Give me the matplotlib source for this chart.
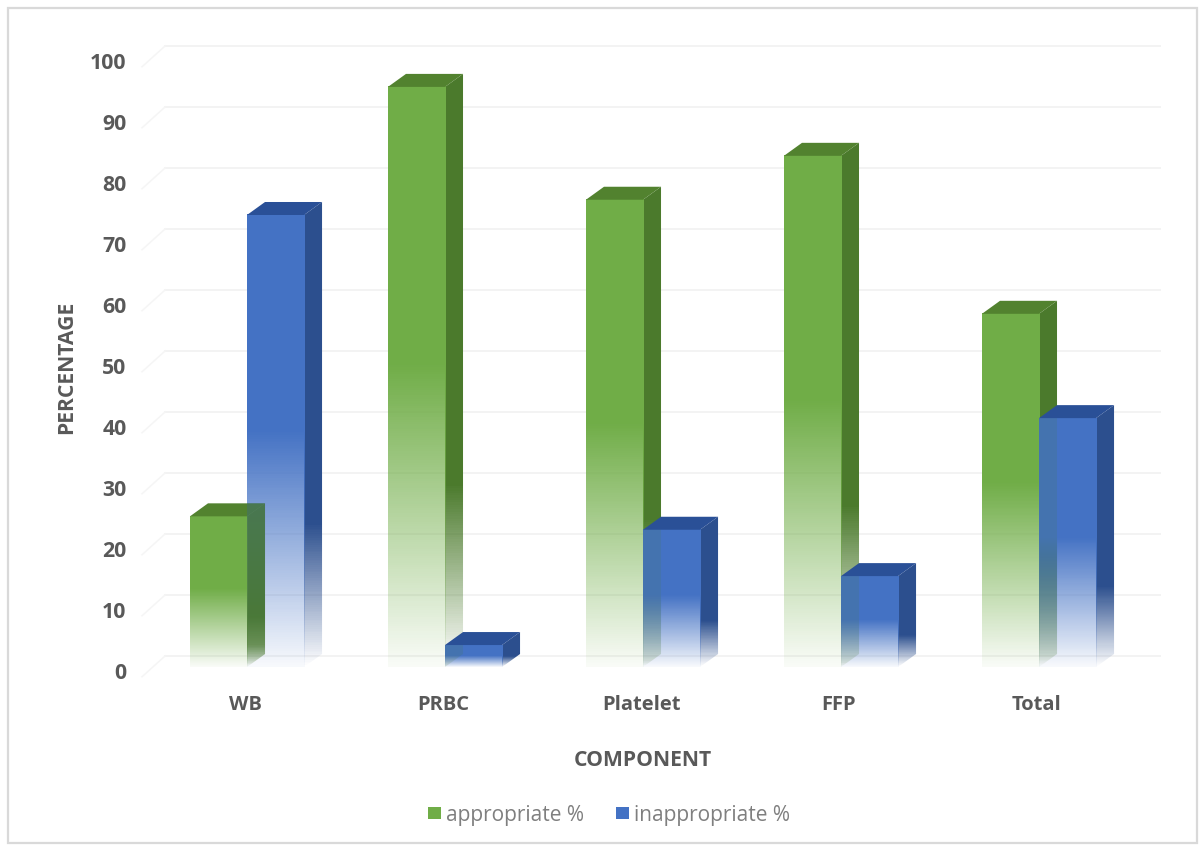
import numpy as np
import matplotlib
matplotlib.use('Agg')
import matplotlib.pyplot as plt
from matplotlib.patches import Polygon, Rectangle, Patch
from matplotlib.transforms import ScaledTranslation

components = ['WB', 'PRBC', 'Platelet', 'FFP', 'Total']
appropriate = [24.7, 95.1, 76.6, 83.8, 57.9]
inappropriate = [74.1, 3.6, 22.5, 14.9, 40.8]
y_ticks = list(range(0, 101, 10))

W, H = 1201, 848
BAR_W = 0.288
DEPTH_X = 0.091
DEPTH_Y = 2.13
GRID_LIFT = 1.8

GREEN = ('#70ad47', '#4b7a2c', '#52822f')
BLUE = ('#4472c4', '#2c4f8e', '#2a5097')
TEXT = '#595959'

plt.rcParams['font.family'] = ['Open Sans', 'DejaVu Sans']


def fade_image(color, strength, floor, cap=1.0):
    # vertical ramp: solid over the upper part of the bar, fading to the base
    rgb = matplotlib.colors.to_rgb(color)
    t = np.linspace(0, 1, 256)
    alpha = np.clip(floor + (1 - floor) * t / 0.52 * strength, 0, cap)
    img = np.zeros((256, 1, 4))
    img[:, 0, :3] = rgb
    img[:, 0, 3] = alpha
    return img


def draw_bar(ax, x, v, colors, z):
    front, side, top = colors
    x1 = x + BAR_W
    ax.imshow(fade_image(front, 1.0, 0.04), origin='lower', aspect='auto',
              extent=(x, x1, 0, v), zorder=z, interpolation='nearest')
    # side face, clipped to its parallelogram
    side_pts = [(x1, 0), (x1 + DEPTH_X, DEPTH_Y), (x1 + DEPTH_X, v + DEPTH_Y), (x1, v)]
    im = ax.imshow(fade_image(side, 1.7, 0.0), origin='lower', aspect='auto',
                   extent=(x1, x1 + DEPTH_X, 0, v + DEPTH_Y), zorder=z - 0.2,
                   interpolation='nearest')
    im.set_clip_path(Polygon(side_pts, transform=ax.transData))
    top_pts = [(x, v), (x + DEPTH_X, v + DEPTH_Y), (x1 + DEPTH_X, v + DEPTH_Y), (x1, v)]
    ax.add_patch(Polygon(top_pts, closed=True, facecolor=top, edgecolor='none', zorder=z))


fig = plt.figure(figsize=(W / 100, H / 100), dpi=100, facecolor='white')
ax = fig.add_axes([148 / W, 1 - 667 / H, 990 / W, 610 / H])
ax.set_facecolor('none')

# outer chart frame
fig.add_artist(Rectangle((8 / W, 1 - 843 / H), 1189 / W, 835 / H, transform=fig.transFigure,
                         facecolor='none', edgecolor='#d9d9d9', linewidth=1.6))

# back wall gridlines and the short floor ticks leading to them
for t in y_ticks:
    ax.plot([-0.414, 4.61], [t + GRID_LIFT, t + GRID_LIFT], color='#f3f3f3', lw=1.4,
            zorder=1, clip_on=False)
    ax.plot([-0.53, -0.414], [t - 1.6, t + GRID_LIFT], color='#f5f5f5', lw=1.1,
            zorder=1, clip_on=False)

for i in range(len(components)):
    draw_bar(ax, i - BAR_W, appropriate[i], GREEN, 3)
    draw_bar(ax, i, inappropriate[i], BLUE, 5)
    # green side shows through the neighbouring blue face
    h = min(appropriate[i] + DEPTH_Y, inappropriate[i])
    side_pts = [(i, 0), (i + DEPTH_X, DEPTH_Y), (i + DEPTH_X, h), (i, h)]
    if appropriate[i] < inappropriate[i]:
        overlay = fade_image(GREEN[1], 2.5, 0.0, cap=0.65)
    else:
        overlay = fade_image(GREEN[1], 1.5, 0.0, cap=0.14)
    im = ax.imshow(overlay, origin='lower', aspect='auto',
                   extent=(i, i + DEPTH_X, 0, h), zorder=6, interpolation='nearest')
    im.set_clip_path(Polygon(side_pts, transform=ax.transData))

ax.set_xlim(-0.5, 4.5)
ax.set_ylim(0, 100)
for s in ax.spines.values():
    s.set_visible(False)

ax.set_xticks(range(len(components)))
ax.set_xticklabels(components, fontsize=14.5, fontweight='bold', color=TEXT)
ax.set_yticks(y_ticks)
ax.set_yticklabels([str(t) for t in y_ticks], fontsize=15.3, fontweight='bold', color=TEXT)
ax.tick_params(axis='both', length=0)
ax.tick_params(axis='x', pad=20.5)
ax.tick_params(axis='y', pad=15.5)
shift = ScaledTranslation(-2 / 100, -4 / 100, fig.dpi_scale_trans)
for lab in ax.get_xticklabels():
    lab.set_transform(lab.get_transform() + ScaledTranslation(-2 / 100, 0, fig.dpi_scale_trans))
for lab in ax.get_yticklabels():
    lab.set_transform(lab.get_transform() + ScaledTranslation(0, -4 / 100, fig.dpi_scale_trans))

fig.text(643 / W, 1 - 760 / H, 'COMPONENT', ha='center', va='center', fontsize=15.2,
         fontweight='bold', color=TEXT)
fig.text(67 / W, 1 - 367 / H, 'PERCENTAGE', ha='center', va='center', rotation=90,
         fontsize=15.2, fontweight='bold', color=TEXT)

handles = [Patch(facecolor=GREEN[0], label='appropriate %'),
           Patch(facecolor=BLUE[0], label='inappropriate %')]
fig.legend(handles=handles, loc='center', bbox_to_anchor=(609 / W, 1 - 815 / H), ncol=2,
           frameon=False, fontsize=15, labelcolor='#7f7f7f', handlelength=0.62,
           handleheight=0.45, handletextpad=0.25, columnspacing=1.5)

fig.savefig('out.png', dpi=100)
